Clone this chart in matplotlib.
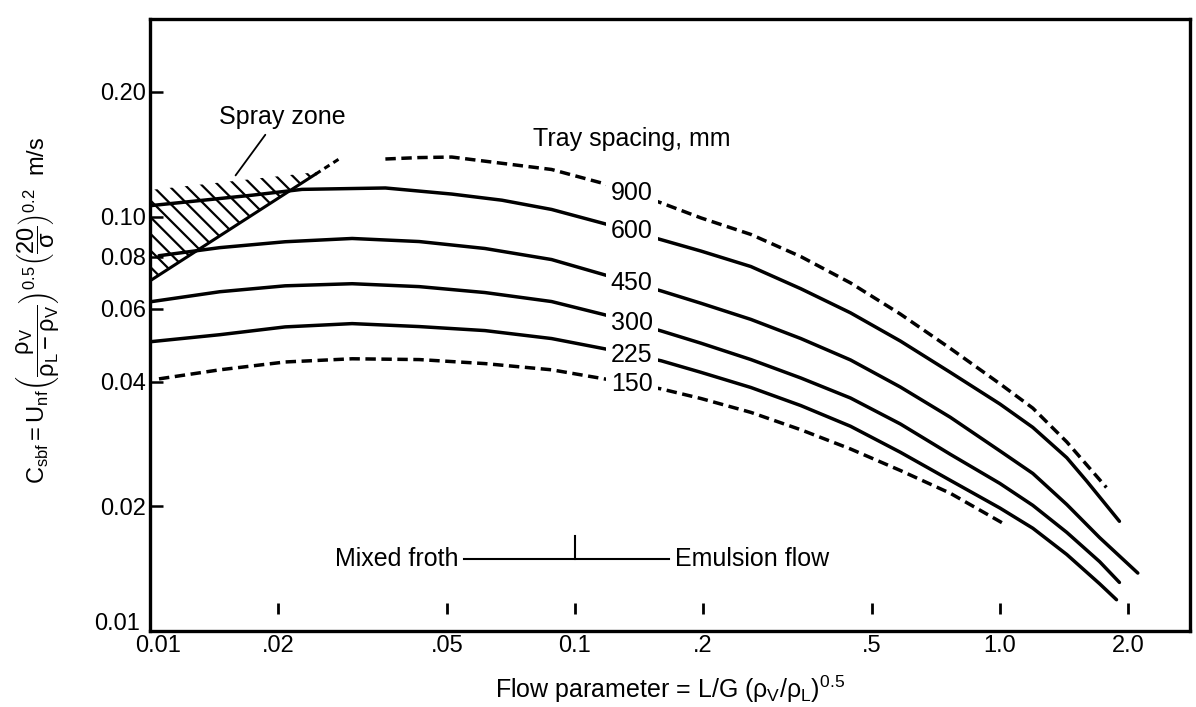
import matplotlib
matplotlib.use("Agg")
import matplotlib.pyplot as plt
import matplotlib.transforms as mtransforms
import numpy as np

plt.rcParams['font.family'] = ['Liberation Sans', 'DejaVu Sans']
plt.rcParams['mathtext.fontset'] = 'custom'
plt.rcParams['mathtext.rm'] = 'Liberation Sans'
plt.rcParams['mathtext.it'] = 'Liberation Sans'
plt.rcParams['hatch.linewidth'] = 1.6

# flow parameter L/G (rhoV/rhoL)^0.5 and C_sbf (m/s)
spacings = ["900", "600", "450", "300", "225", "150"]
dashed = [True, False, False, False, False, True]

x_900 = [0.0358, 0.0430, 0.0513, 0.0881, 0.1173, 0.1595, 0.198, 0.2594, 0.340, 0.445, 0.583, 0.764, 1.00, 1.195, 1.436, 1.78]
c_900 = [0.1378, 0.1389, 0.1393, 0.1300, 0.1201, 0.1080, 0.0993, 0.0906, 0.0801, 0.0692, 0.0582, 0.0481, 0.0395, 0.0345, 0.0286, 0.0222]

x_600 = [0.01, 0.0174, 0.0228, 0.0358, 0.0513, 0.0673, 0.0881, 0.1173, 0.1595, 0.198, 0.2594, 0.340, 0.445, 0.583, 0.764, 1.00, 1.195, 1.436, 1.60, 1.91]
c_600 = [0.1063, 0.1127, 0.1164, 0.1173, 0.1134, 0.1096, 0.1041, 0.0962, 0.0880, 0.0826, 0.0758, 0.0670, 0.0586, 0.0501, 0.0421, 0.0353, 0.0310, 0.0262, 0.0230, 0.0184]

x_450 = [0.0105, 0.0146, 0.0208, 0.0299, 0.0430, 0.0614, 0.0881, 0.1173, 0.1595, 0.198, 0.2594, 0.340, 0.445, 0.583, 0.764, 1.00, 1.195, 1.436, 1.716, 2.11]
c_450 = [0.0805, 0.0842, 0.0870, 0.0886, 0.0871, 0.0838, 0.0788, 0.0724, 0.0662, 0.0618, 0.0565, 0.0508, 0.0451, 0.0388, 0.0328, 0.0272, 0.0240, 0.0202, 0.0168, 0.0138]

x_300 = [0.01, 0.0146, 0.0208, 0.0299, 0.0430, 0.0614, 0.0881, 0.1173, 0.1595, 0.198, 0.2594, 0.340, 0.445, 0.583, 0.764, 1.00, 1.195, 1.436, 1.716, 1.91]
c_300 = [0.0623, 0.0659, 0.0681, 0.0689, 0.0678, 0.0656, 0.0624, 0.0580, 0.0530, 0.0495, 0.0452, 0.0408, 0.0365, 0.0316, 0.0267, 0.0227, 0.0201, 0.0173, 0.0147, 0.0131]

x_225 = [0.01, 0.0146, 0.0208, 0.0299, 0.0430, 0.0614, 0.0881, 0.1173, 0.1595, 0.198, 0.2594, 0.340, 0.445, 0.583, 0.764, 1.00, 1.195, 1.436, 1.716, 1.88]
c_225 = [0.0499, 0.0519, 0.0542, 0.0552, 0.0543, 0.0531, 0.0508, 0.0480, 0.0449, 0.0421, 0.0387, 0.0350, 0.0312, 0.0270, 0.0231, 0.0198, 0.0177, 0.0153, 0.0130, 0.0119]

x_150 = [0.0105, 0.0146, 0.0208, 0.0299, 0.0430, 0.0614, 0.0881, 0.1173, 0.1595, 0.198, 0.2594, 0.340, 0.445, 0.583, 0.764, 1.016]
c_150 = [0.0406, 0.0427, 0.0446, 0.0454, 0.0452, 0.0442, 0.0427, 0.0406, 0.0384, 0.0364, 0.0337, 0.0306, 0.0275, 0.0244, 0.0215, 0.0182]

curves_x = [x_900, x_600, x_450, x_300, x_225, x_150]
curves_c = [c_900, c_600, c_450, c_300, c_225, c_150]

# spray zone wedge
spray_x = [0.01, 0.0245]
spray_lower = [0.070, 0.1266]
spray_upper = [0.1160, 0.1280]
spray_ext_x = [0.0245, 0.028]
spray_ext_c = [0.1266, 0.1383]

# mixed froth / emulsion flow divider
regime_x = [0.0548, 0.1666]
regime_c = 0.0149
regime_split = 0.1
regime_tick_top = 0.0170

xticks = [0.01, 0.02, 0.05, 0.1, 0.2, 0.5, 1.0, 2.0]
xticklabels = ["0.01", ".02", ".05", "0.1", ".2", ".5", "1.0", "2.0"]
yticks = [0.01, 0.02, 0.04, 0.06, 0.08, 0.10, 0.20]
yticklabels = ["0.01", "0.02", "0.04", "0.06", "0.08", "0.10", "0.20"]

label_x = 0.136

fig = plt.figure(figsize=(11.96, 7.07), dpi=100)
ax = fig.add_axes([0.1254, 0.1075, 0.8696, 0.8656])
ax.set_xscale("log")
ax.set_yscale("log")
ax.set_xlim(0.01, 2.8)
ax.set_ylim(0.01, 0.30)

for xs, cs, d in zip(curves_x, curves_c, dashed):
    ls = (0, (3, 1.6)) if d else "-"
    ax.plot(xs, cs, color="black", lw=2.5, ls=ls, solid_capstyle="round",
            solid_joinstyle="round", zorder=2)

# labels sit in gaps of the curves
for name, xs, cs in zip(spacings, curves_x, curves_c):
    cy = 10 ** np.interp(np.log10(label_x), np.log10(xs), np.log10(cs))
    ax.text(label_x, cy, name, ha="center", va="center", fontsize=18, color="none",
            bbox=dict(boxstyle="square,pad=0.2", fc="white", ec="none"), zorder=3)
    ax.text(label_x, cy, name, ha="center", va="center", fontsize=18, zorder=4)

ax.fill_between(spray_x, spray_lower, spray_upper, facecolor="none", edgecolor="black",
                hatch="\\\\", linewidth=0, zorder=1)
ax.plot(spray_x, spray_lower, color="black", lw=2.2, zorder=2)
ax.plot(spray_ext_x, spray_ext_c, color="black", lw=2.2, ls=(0, (2, 1.5)), zorder=2)

ax.annotate("Spray zone", xy=(0.0159, 0.1258), xytext=(0.0205, 0.1744),
            fontsize=18, ha="center", va="center",
            arrowprops=dict(arrowstyle="-", color="black", lw=1.3, relpos=(0.4, 0.0), shrinkA=3, shrinkB=0))
ax.text(0.1357, 0.1538, "Tray spacing, mm", fontsize=18, ha="center", va="center")

ax.plot(regime_x, [regime_c, regime_c], color="black", lw=1.5)
ax.plot([regime_split, regime_split], [regime_c, regime_tick_top], color="black", lw=1.5)
ax.text(regime_x[0] * 0.97, regime_c, "Mixed froth", fontsize=18, ha="right", va="center")
ax.text(regime_x[1] * 1.03, regime_c, "Emulsion flow", fontsize=18, ha="left", va="center")

# floating tick marks above the x axis
ax.vlines(xticks[1:], 0.028, 0.046, transform=ax.get_xaxis_transform(), color="black", lw=2)

ax.set_xticks(xticks)
ax.set_xticklabels(xticklabels)
ax.set_yticks(yticks)
ax.set_yticklabels(yticklabels)
ax.minorticks_off()
ax.tick_params(axis="x", length=0, pad=3, labelsize=17)
ax.tick_params(axis="y", direction="in", length=9, width=1.8, pad=3, labelsize=17)
for s in ax.spines.values():
    s.set_linewidth(2.4)

# corner labels: y 0.01 sits above the axis line, x 0.01 a bit right of the spine
lab = ax.get_yticklabels()[0]
lab.set_transform(lab.get_transform() + mtransforms.ScaledTranslation(-6 / 100, 9 / 100, fig.dpi_scale_trans))
lab = ax.get_xticklabels()[0]
lab.set_transform(lab.get_transform() + mtransforms.ScaledTranslation(8 / 100, 0, fig.dpi_scale_trans))

ax.set_xlabel(r"Flow parameter = L/G $(\rho_V/\rho_L)^{0.5}$", fontsize=18, labelpad=12)
fig.text(38 / 1196, 1 - 310 / 707,
         r"$\mathrm{C_{sbf} = U_{nf}}\left(\dfrac{\rho_V}{\rho_L-\rho_V}\right)^{0.5}\left(\dfrac{20}{\sigma}\right)^{0.2}$  m/s",
         rotation=90, ha="center", va="center", fontsize=17)

fig.savefig("out.png", dpi=100)
